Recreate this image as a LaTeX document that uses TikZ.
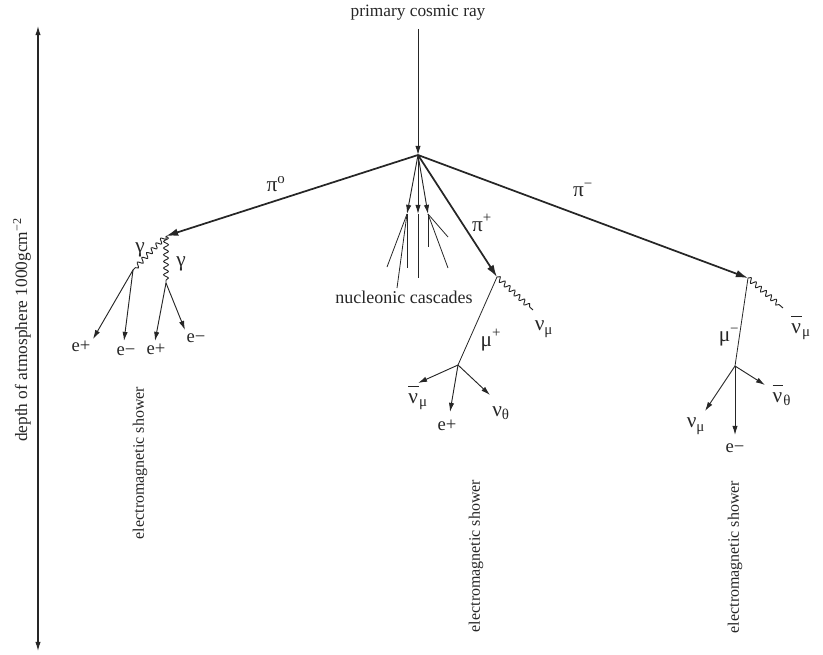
\documentclass[tikz,border=0pt]{standalone}
\usepackage{fontspec}
\setmainfont{Liberation Serif}
\usepackage{tikz}
\usetikzlibrary{arrows.meta, decorations.pathmorphing, positioning}
\definecolor{showerink}{HTML}{262626}
\newcommand{\antinu}{\ensuremath{\overline{\mbox{\rule{0pt}{0.7em}ν\kern0.05em}}}}

\begin{document}
\begin{tikzpicture}[
    x=0.75pt, y=-0.75pt,
    every node/.style={font=\fontsize{13}{15}\selectfont, text=showerink, inner sep=1pt},
    pionarrow/.style={
        -{Latex[length=3.2mm, width=2mm]},
        line width=1.3pt,
        draw=showerink
    },
    track/.style={
        -{Latex[length=2.4mm, width=1.4mm]},
        line width=0.7pt,
        draw=showerink
    },
    bare/.style={
        line width=0.6pt,
        draw=showerink
    },
    photon/.style={
        line width=0.7pt,
        draw=showerink,
        decorate,
        decoration={snake, amplitude=1.8pt, segment length=5pt, post length=2pt}
    },
    particle/.style={font=\fontsize{16}{18}\selectfont},
    lepton/.style={font=\fontsize{14}{16}\selectfont},
    showerlabel/.style={rotate=90, font=\fontsize{12}{14}\selectfont}
]
\useasboundingbox (0,0) rectangle (823,654);

% Depth axis
\coordinate (axistop) at (38,26);
\coordinate (axisbottom) at (38,651);
\draw[{Latex[length=2.4mm,width=1.4mm]}-{Latex[length=2.4mm,width=1.4mm]}, line width=0.8pt, draw=showerink] (axistop) -- (axisbottom);
\node[rotate=90] (depth) at (22,330) {depth of atmosphere 1000gcm\textsuperscript{−2}};

% Primary and first interaction
\node (primary) at (418,13) {primary cosmic ray};
\coordinate (vertex) at (418,155);
\draw[track, shorten <=5pt] (primary) -- (vertex);

% Pions
\coordinate (pizero) at (166,236);
\coordinate (piplus) at (497,277);
\coordinate (piminus) at (748,278);
\draw[pionarrow] (vertex) -- (pizero);
\draw[pionarrow] (vertex) -- (piplus);
\draw[pionarrow] (vertex) -- (piminus);
\node[particle] (pizerolabel) at (276,184) {π\textsuperscript{o}};
\node[particle] (pipluslabel) at (482,223) {π\textsuperscript{+}};
\node[particle] (piminuslabel) at (583,190) {π\textsuperscript{−}};

% Nucleonic cascades
\coordinate (nucleonA) at (407,214);
\coordinate (nucleonB) at (418,214);
\coordinate (nucleonC) at (428,214);
\foreach \n in {A,B,C}
    \draw[track] (vertex) -- (nucleon\n);
\foreach \from/\to [count=\i] in {nucleonA/{387,267}, nucleonA/{397,288}, nucleonA/{407,268},
                                  nucleonB/{418,278}, nucleonC/{448,237}, nucleonC/{428,247},
                                  nucleonC/{448,268}} {
    \coordinate (fragment\i) at (\to);
    \draw[bare] (\from) -- (fragment\i);
}
\node[font=\fontsize{13.5}{15}\selectfont] (cascades) at (404,297) {nucleonic cascades};

% Neutral pion -> two photons -> pairs
\coordinate (gammaA) at (133,270);
\coordinate (gammaB) at (166,283);
\draw[photon] (pizero) -- (gammaA);
\draw[photon] (pizero) -- (gammaB);
\node[particle] (gammaAlabel) at (140,250) {γ};
\node[particle] (gammaBlabel) at (181,264) {γ};

\coordinate (pairA1) at (93,339);
\coordinate (pairA2) at (124,341);
\coordinate (pairB1) at (155,341);
\coordinate (pairB2) at (185,330);
\draw[track] (gammaA) -- (pairA1);
\draw[track] (gammaA) -- (pairA2);
\draw[track] (gammaB) -- (pairB1);
\draw[track] (gammaB) -- (pairB2);
\node[lepton] (pairA1label) at (81,346) {e+};
\node[lepton] (pairA2label) at (126,351) {e−};
\node[lepton] (pairB1label) at (156,349) {e+};
\node[lepton] (pairB2label) at (196,338) {e−};

\node[showerlabel] (showerzero) at (140,463) {electromagnetic shower};

% Positive pion -> muon -> decay
\coordinate (numuplus) at (533,310);
\draw[photon] (piplus) -- (numuplus);
\node[particle] (numupluslabel) at (544,329) {ν\textsubscript{μ}};
\coordinate (muplus) at (458,365);
\draw[bare] (piplus) -- (muplus);
\node[particle] (mupluslabel) at (491,340) {μ\textsuperscript{+}};

\coordinate (antinumu) at (418,383);
\coordinate (positron) at (450,412);
\coordinate (nutheta) at (490,395);
\draw[track] (muplus) -- (antinumu);
\draw[track] (muplus) -- (positron);
\draw[track] (muplus) -- (nutheta);
\node[particle] (antinumulabel) at (418,398) {\antinu\textsubscript{μ}};
\node[lepton] (positronlabel) at (447,425) {e+};
\node[particle] (nuthetalabel) at (501,413) {ν\textsubscript{θ}};

\node[showerlabel] (showerplus) at (476,556) {electromagnetic shower};

% Negative pion -> muon -> decay
\coordinate (antinumuminus) at (783,308);
\draw[photon] (piminus) -- (antinumuminus);
\node[particle] (antinumuminuslabel) at (801,328) {\antinu\textsubscript{μ}};
\coordinate (muminus) at (735,366);
\draw[bare] (piminus) -- (muminus);
\node[particle] (muminuslabel) at (729,337) {μ\textsuperscript{−}};

\coordinate (numuminus) at (705,411);
\coordinate (electron) at (735,435);
\coordinate (antinutheta) at (765,385);
\draw[track] (muminus) -- (numuminus);
\draw[track] (muminus) -- (electron);
\draw[track] (muminus) -- (antinutheta);
\node[particle] (numuminuslabel) at (696,426) {ν\textsubscript{μ}};
\node[lepton] (electronlabel) at (735,448) {e−};
\node[particle] (antinuthetalabel) at (782,395) {\antinu\textsubscript{θ}};

\node[showerlabel] (showerminus) at (735,557) {electromagnetic shower};

\end{tikzpicture}
\end{document}
